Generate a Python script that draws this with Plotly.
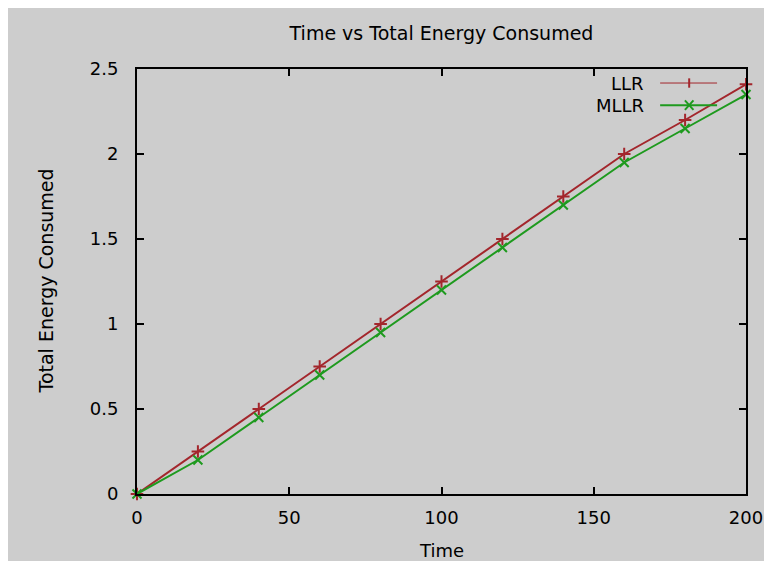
import plotly.graph_objects as go

time = [0, 20, 40, 60, 80, 100, 120, 140, 160, 180, 200]
llr = [0, 0.25, 0.5, 0.75, 1.0, 1.25, 1.5, 1.75, 2.0, 2.2, 2.41]
mllr = [0, 0.2, 0.45, 0.7, 0.95, 1.2, 1.45, 1.7, 1.95, 2.15, 2.35]
x_ticks = [0, 50, 100, 150, 200]
y_ticks = [0, 0.5, 1, 1.5, 2, 2.5]
y_tick_text = ["0", "0.5", "1", "1.5", "2", "2.5"]

red = "#a3262c"
green = "#1e9a1e"
bg = "#cdcdcd"
font = "DejaVu Sans"

fig = go.Figure()
fig.add_trace(go.Scatter(x=time, y=llr, mode="lines+markers", name="LLR",
                         line=dict(color=red, width=2), cliponaxis=False,
                         marker=dict(symbol="cross-thin", size=9, line=dict(color=red, width=2))))
fig.add_trace(go.Scatter(x=time, y=mllr, mode="lines+markers", name="MLLR",
                         line=dict(color=green, width=2), cliponaxis=False,
                         marker=dict(symbol="x-thin", size=9, line=dict(color=green, width=2))))

axis_common = dict(showgrid=False, zeroline=False, showline=True, linecolor="black", linewidth=2,
                   mirror="allticks", ticks="inside", ticklen=7, tickcolor="black", tickwidth=1.5,
                   tickfont=dict(family=font, size=18, color="black"))

L, R, T, B = 129, 34, 61, 75
plot_h = 561 - T - B

fig.update_layout(
    width=772, height=561,
    paper_bgcolor=bg, plot_bgcolor=bg,
    margin=dict(l=L, r=R, t=T, b=B),
    showlegend=False,
    title=dict(text="Time vs Total Energy Consumed", x=0.5, xanchor="center", y=1 - 25 / 561, yanchor="middle",
               font=dict(family=font, size=19, color="black"), xref="paper"),
    xaxis=dict(range=[0, 200], tickvals=x_ticks, ticklabelstandoff=6, **axis_common),
    yaxis=dict(range=[0, 2.5], tickvals=y_ticks, ticktext=y_tick_text, ticklabelstandoff=13, **axis_common),
)

# axis titles
fig.add_annotation(x=0.5, y=0, xref="paper", yref="paper", text="Time", showarrow=False,
                   xanchor="center", yanchor="middle", yshift=-56,
                   font=dict(family=font, size=18, color="black"))
fig.add_annotation(x=0, y=0.5, xref="paper", yref="paper", text="Total Energy Consumed", showarrow=False,
                   xanchor="center", yanchor="middle", xshift=-92, textangle=-90,
                   font=dict(family=font, size=19, color="black"))

# custom gnuplot-style legend (text left of sample)
legend_items = [("LLR", red, "plus", 0.967, 1), ("MLLR", green, "x", 0.915, 2)]
for label, col, sym, yy, lw in legend_items:
    fig.add_annotation(x=0.835, y=yy, xref="paper", yref="paper", text=label, showarrow=False,
                       xanchor="right", yanchor="middle", font=dict(family=font, size=18, color="black"))
    fig.add_shape(type="line", xref="paper", yref="paper", x0=0.859, x1=0.9525, y0=yy, y1=yy,
                  line=dict(color=col, width=lw))
    cx = 0.9067
    dx = 0.007
    dy = 0.011
    if sym == "plus":
        fig.add_shape(type="line", xref="paper", yref="paper", x0=cx, x1=cx, y0=yy - dy, y1=yy + dy,
                      line=dict(color=col, width=2))
    else:
        fig.add_shape(type="line", xref="paper", yref="paper", x0=cx - dx, x1=cx + dx, y0=yy - dy, y1=yy + dy,
                      line=dict(color=col, width=2))
        fig.add_shape(type="line", xref="paper", yref="paper", x0=cx - dx, x1=cx + dx, y0=yy + dy, y1=yy - dy,
                      line=dict(color=col, width=2))

fig.write_html("out.html")
